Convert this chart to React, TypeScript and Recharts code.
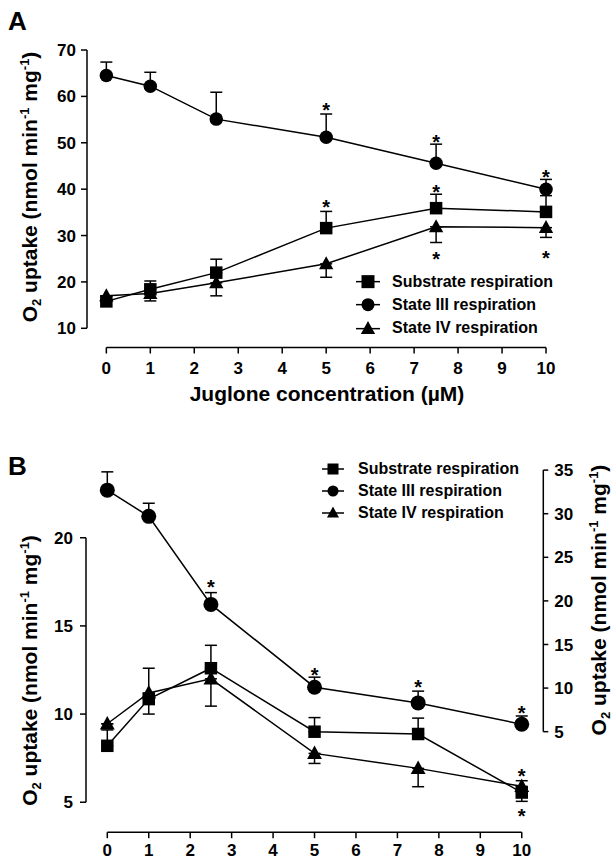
import React from "react";
import {
  ComposedChart,
  Line,
  XAxis,
  YAxis,
  ErrorBar,
  ReferenceLine,
  Scatter,
  Legend,
  Label,
} from "recharts";

const FONT = "'Liberation Sans', Arial, Helvetica, sans-serif";

const seriesNames = ["Substrate respiration", "State III respiration", "State IV respiration"];

// ---- panel A: juglone concentration (µM) ----
const concA = [0, 1, 2.5, 5, 7.5, 10];
const substrateA = [15.8, 18.4, 22.0, 31.6, 35.9, 35.1];
const substrateErrA = [[0, 0], [0, 1.8], [0, 2.9], [0, 3.6], [0, 3.0], [0, 3.5]];
const state3A = [64.5, 62.2, 55.1, 51.2, 45.6, 40.0];
const state3ErrA = [[0, 2.9], [0, 3.0], [0, 5.8], [0, 5.0], [0, 4.1], [0, 2.1]];
const state4A = [17.0, 17.5, 19.8, 23.9, 31.9, 31.7];
const state4ErrA = [[0, 0], [1.6, 0], [2.8, 0], [2.9, 0], [3.4, 0], [2.1, 0]];
const starsA = [
  { x: 5, y: 57.9 },
  { x: 7.5, y: 51.0 },
  { x: 10, y: 43.5 },
  { x: 5, y: 37.0 },
  { x: 7.5, y: 40.2 },
  { x: 7.5, y: 25.8 },
  { x: 10, y: 26.0 },
];
const xTicks = [0, 1, 2, 3, 4, 5, 6, 7, 8, 9, 10];
const yTicksA = [10, 20, 30, 40, 50, 60, 70];

// ---- panel B ----
const concB = [0, 1, 2.5, 5, 7.5, 10];
const substrateB = [8.2, 10.85, 12.6, 9.0, 8.87, 5.55];
const substrateErrB = [[0, 0.9], [0.85, 0], [0, 1.3], [0, 0.8], [0, 0.9], [0.5, 0]];
const state3B = [32.7, 29.7, 19.6, 10.1, 8.3, 5.85]; // right axis
const state3ErrB = [[0, 2.1], [0, 1.5], [0, 1.35], [0, 1.15], [0, 1.35], [0, 0.95]];
const state4B = [9.45, 11.2, 12.0, 7.77, 6.92, 5.9];
const state4ErrB = [[0, 0], [0, 1.4], [1.55, 0], [0.57, 0], [1.04, 0], [0, 0.32]];
const starsBRight = [
  { x: 2.5, y: 22.0 },
  { x: 5, y: 12.0 },
  { x: 7.5, y: 10.55 },
  { x: 10, y: 7.6 },
];
const starsBLeft = [
  { x: 10, y: 6.73 },
  { x: 10, y: 4.46 },
];
const yTicksBLeft = [5, 10, 15, 20];
const yTicksBRight = [5, 10, 15, 20, 25, 30, 35];

const tableA = concA.map((x, i) => ({
  x,
  sub: substrateA[i],
  subErr: substrateErrA[i],
  s3: state3A[i],
  s3Err: state3ErrA[i],
  s4: state4A[i],
  s4Err: state4ErrA[i],
}));

const tableB = concB.map((x, i) => ({
  x,
  sub: substrateB[i],
  subErr: substrateErrB[i],
  s3: state3B[i],
  s3Err: state3ErrB[i],
  s4: state4B[i],
  s4Err: state4ErrB[i],
}));

function Marker({ cx, cy, kind, size }: any) {
  if (cx == null || cy == null) return null;
  if (kind === "circle") return <circle cx={cx} cy={cy} r={size / 2} fill="#000" />;
  if (kind === "square")
    return <rect x={cx - size / 2} y={cy - size / 2} width={size} height={size} fill="#000" />;
  const w = size * 1.1;
  const h = size;
  return (
    <polygon
      points={`${cx},${cy - h * 0.58} ${cx - w / 2},${cy + h * 0.42} ${cx + w / 2},${cy + h * 0.42}`}
      fill="#000"
    />
  );
}

const dotOf = (kind: string, size: number) => (p: any) =>
  <Marker key={`${kind}-${p.index}`} cx={p.cx} cy={p.cy} kind={kind} size={size} />;

const Star = (p: any) => (
  <text
    x={p.cx}
    y={p.cy + 11}
    textAnchor="middle"
    fontFamily={FONT}
    fontWeight="bold"
    fontSize={20}
    fill="#000"
  >
    *
  </text>
);

function O2Title({ px, py }: { px: number; py: number }) {
  return (
    <text
      x={px}
      y={py}
      transform={`rotate(-90, ${px}, ${py})`}
      textAnchor="middle"
      fontFamily={FONT}
      fontWeight="bold"
      fontSize={21}
      fill="#000"
    >
      O<tspan fontSize={13} dy={4}>2</tspan>
      <tspan dy={-4}> uptake (nmol min</tspan>
      <tspan fontSize={13} dy={-8}>-1</tspan>
      <tspan dy={8}> mg</tspan>
      <tspan fontSize={13} dy={-8}>-1</tspan>
      <tspan dy={8}>)</tspan>
    </text>
  );
}

function LegendRows({ payload, markerSize, lineW, gap, rowH }: any) {
  // keep only the three series, in the figure's order
  const rows = (payload || [])
    .filter((e: any) => seriesNames.includes(e.value))
    .sort((a: any, b: any) => seriesNames.indexOf(a.value) - seriesNames.indexOf(b.value));
  return (
    <div style={{ fontFamily: FONT, fontWeight: "bold", fontSize: 16, color: "#000" }}>
      {rows.map((entry: any) => (
        <div
          key={entry.value}
          style={{ display: "flex", alignItems: "center", height: rowH }}
        >
          <svg width={lineW} height={rowH} style={{ display: "block" }}>
            <line x1={0} x2={lineW} y1={rowH / 2} y2={rowH / 2} stroke="#000" strokeWidth={1.5} />
            <Marker cx={lineW / 2} cy={rowH / 2} kind={entry.type} size={markerSize} />
          </svg>
          <span style={{ marginLeft: gap, whiteSpace: "nowrap" }}>{entry.value}</span>
        </div>
      ))}
    </div>
  );
}

const tickStyle = { fontSize: 17, fontWeight: "bold", fill: "#000", fontFamily: FONT };
const tickLine = { stroke: "#000", strokeWidth: 1.5 };

function PanelA() {
  const xDom: [number, number] = [-0.44, 10.5];
  const yDom: [number, number] = [5.86, 72.16];
  return (
    <ComposedChart
      width={612}
      height={420}
      data={tableA}
      margin={{ top: 40, right: 44, bottom: 0, left: 0 }}
    >
      <XAxis
        type="number"
        dataKey="x"
        domain={xDom}
        allowDataOverflow
        ticks={xTicks}
        interval={0}
        axisLine={false}
        tickLine={tickLine}
        tickSize={6}
        tickMargin={8}
        tick={tickStyle}
        height={72.5}
      >
        <Label
          content={() => (
            <text
              x={327}
              y={401}
              textAnchor="middle"
              fontFamily={FONT}
              fontWeight="bold"
              fontSize={21}
              fill="#000"
            >
              Juglone concentration (µM)
            </text>
          )}
        />
      </XAxis>
      <YAxis
        type="number"
        domain={yDom}
        allowDataOverflow
        ticks={yTicksA}
        interval={0}
        axisLine={false}
        tickLine={tickLine}
        tickSize={6}
        tickMargin={5}
        tick={tickStyle}
        width={87}
      >
        <Label content={() => <O2Title px={37} py={187} />} />
      </YAxis>
      <ReferenceLine
        segment={[{ x: xDom[0], y: 10 }, { x: xDom[0], y: 70 }]}
        stroke="#000"
        strokeWidth={1.5}
        ifOverflow="visible"
      />
      <ReferenceLine
        segment={[{ x: 0, y: yDom[0] }, { x: 10, y: yDom[0] }]}
        stroke="#000"
        strokeWidth={1.5}
        ifOverflow="visible"
      />
      <Legend
        layout="vertical"
        align="center"
        verticalAlign="middle"
        wrapperStyle={{ left: 356, top: 270, width: 240 }}
        content={(props: any) => (
          <LegendRows payload={props.payload} markerSize={13} lineW={24} gap={12} rowH={23.3} />
        )}
      />
      <Line
        dataKey="sub"
        name="Substrate respiration"
        legendType="square"
        stroke="#000"
        strokeWidth={1.5}
        dot={dotOf("square", 12.5)}
        isAnimationActive={false}
      >
        <ErrorBar dataKey="subErr" direction="y" width={6} stroke="#000" strokeWidth={1.5} />
      </Line>
      <Line
        dataKey="s3"
        name="State III respiration"
        legendType="circle"
        stroke="#000"
        strokeWidth={1.5}
        dot={dotOf("circle", 13.5)}
        isAnimationActive={false}
      >
        <ErrorBar dataKey="s3Err" direction="y" width={6} stroke="#000" strokeWidth={1.5} />
      </Line>
      <Line
        dataKey="s4"
        name="State IV respiration"
        legendType="triangle"
        stroke="#000"
        strokeWidth={1.5}
        dot={dotOf("triangle", 13)}
        isAnimationActive={false}
      >
        <ErrorBar dataKey="s4Err" direction="y" width={6} stroke="#000" strokeWidth={1.5} />
      </Line>
      <Scatter data={starsA} dataKey="y" shape={Star} legendType="none" isAnimationActive={false} />
    </ComposedChart>
  );
}

function PanelB() {
  const xDom: [number, number] = [-0.514, 10.52];
  const lDom: [number, number] = [3.3, 24.41];
  const rDom: [number, number] = [-6.53, 36.16];
  return (
    <ComposedChart
      width={612}
      height={442}
      data={tableB}
      margin={{ top: 40, right: 0, bottom: 0, left: 0 }}
    >
      <XAxis
        type="number"
        dataKey="x"
        domain={xDom}
        allowDataOverflow
        ticks={xTicks}
        interval={0}
        axisLine={false}
        tickLine={tickLine}
        tickSize={6}
        tickMargin={6}
        tick={tickStyle}
        height={29.8}
      />
      <YAxis
        yAxisId="left"
        type="number"
        domain={lDom}
        allowDataOverflow
        ticks={yTicksBLeft}
        interval={0}
        axisLine={false}
        tickLine={tickLine}
        tickSize={6}
        tickMargin={7}
        tick={tickStyle}
        width={86}
      >
        <Label content={() => <O2Title px={37} py={250.5} />} />
      </YAxis>
      <YAxis
        yAxisId="right"
        orientation="right"
        type="number"
        domain={rDom}
        allowDataOverflow
        ticks={yTicksBRight}
        interval={0}
        axisLine={false}
        tickLine={tickLine}
        tickSize={5}
        tickMargin={6}
        tick={tickStyle}
        width={68.7}
      >
        <Label content={() => <O2Title px={606} py={180} />} />
      </YAxis>
      <ReferenceLine
        yAxisId="left"
        segment={[{ x: xDom[0], y: 5 }, { x: xDom[0], y: 20 }]}
        stroke="#000"
        strokeWidth={1.5}
        ifOverflow="visible"
      />
      <ReferenceLine
        yAxisId="right"
        segment={[{ x: xDom[1], y: 5 }, { x: xDom[1], y: 35 }]}
        stroke="#000"
        strokeWidth={1.5}
        ifOverflow="visible"
      />
      <ReferenceLine
        yAxisId="left"
        segment={[{ x: 0, y: lDom[0] }, { x: 10, y: lDom[0] }]}
        stroke="#000"
        strokeWidth={1.5}
        ifOverflow="visible"
      />
      <Legend
        layout="vertical"
        align="center"
        verticalAlign="middle"
        wrapperStyle={{ left: 322, top: 38.3, width: 240 }}
        content={(props: any) => (
          <LegendRows payload={props.payload} markerSize={11} lineW={22} gap={14} rowH={22} />
        )}
      />
      <Line
        yAxisId="left"
        dataKey="sub"
        name="Substrate respiration"
        legendType="square"
        stroke="#000"
        strokeWidth={1.5}
        dot={dotOf("square", 12.5)}
        isAnimationActive={false}
      >
        <ErrorBar dataKey="subErr" direction="y" width={6} stroke="#000" strokeWidth={1.5} />
      </Line>
      <Line
        yAxisId="right"
        dataKey="s3"
        name="State III respiration"
        legendType="circle"
        stroke="#000"
        strokeWidth={1.5}
        dot={dotOf("circle", 15)}
        isAnimationActive={false}
      >
        <ErrorBar dataKey="s3Err" direction="y" width={6} stroke="#000" strokeWidth={1.5} />
      </Line>
      <Line
        yAxisId="left"
        dataKey="s4"
        name="State IV respiration"
        legendType="triangle"
        stroke="#000"
        strokeWidth={1.5}
        dot={dotOf("triangle", 13.5)}
        isAnimationActive={false}
      >
        <ErrorBar dataKey="s4Err" direction="y" width={6} stroke="#000" strokeWidth={1.5} />
      </Line>
      <Scatter
        yAxisId="right"
        data={starsBRight}
        dataKey="y"
        shape={Star}
        legendType="none"
        isAnimationActive={false}
      />
      <Scatter
        yAxisId="left"
        data={starsBLeft}
        dataKey="y"
        shape={Star}
        legendType="none"
        isAnimationActive={false}
      />
    </ComposedChart>
  );
}

export default function App() {
  const letter = {
    position: "absolute" as const,
    left: 8,
    fontFamily: FONT,
    fontWeight: "bold" as const,
    fontSize: 26,
    lineHeight: "26px",
    color: "#000",
  };
  return (
    <div
      style={{
        position: "absolute",
        left: 0,
        top: 0,
        width: 612,
        height: 862,
        background: "#fff",
        overflow: "hidden",
      }}
    >
      <div style={{ position: "absolute", left: 0, top: 0 }}>
        <PanelA />
      </div>
      <div style={{ position: "absolute", left: 0, top: 420 }}>
        <PanelB />
      </div>
      <div style={{ ...letter, top: 8 }}>A</div>
      <div style={{ ...letter, top: 453 }}>B</div>
    </div>
  );
}
